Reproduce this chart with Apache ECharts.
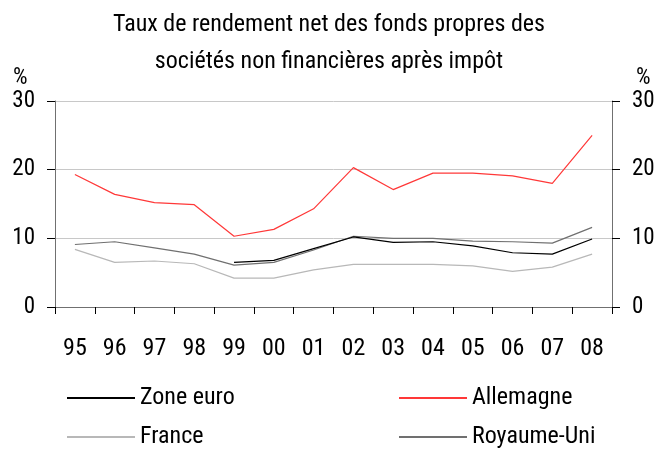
<!DOCTYPE html>
<html lang="fr">
<head>
    <meta charset="UTF-8">
    <title>Taux de rendement</title>
    <style>
        html, body { margin: 0; padding: 0; background: #fff; }
        #container { width: 658px; height: 450px; }
    </style>
</head>
<body>
<div id="container"></div>
<script src="https://cdn.jsdelivr.net/npm/echarts@6/dist/echarts.min.js"></script>
<script type="text/javascript">
    // années
    var years = ['95','96','97','98','99','00','01','02','03','04','05','06','07','08'];
    // séries (%)
    var zoneEuro   = [null, null, null, null, 6.5, 6.8, 8.5, 10.2, 9.4, 9.5, 8.9, 7.9, 7.7, 9.9];
    var allemagne  = [19.3, 16.4, 15.2, 14.9, 10.3, 11.3, 14.3, 20.3, 17.1, 19.5, 19.5, 19.1, 18.0, 25.0];
    var france     = [8.4, 6.5, 6.7, 6.3, 4.2, 4.2, 5.4, 6.2, 6.2, 6.2, 6.0, 5.2, 5.8, 7.7];
    var royaumeUni = [9.1, 9.5, 8.6, 7.7, 6.1, 6.5, 8.3, 10.3, 10.0, 10.0, 9.6, 9.5, 9.3, 11.6];
    var yTicks = [0, 10, 20, 30];

    var font = '"Roboto Condensed", "DejaVu Sans Condensed", sans-serif';
    var axisCol = '#707070';

    function yAxis(pos) {
        return {
            type: 'value',
            position: pos,
            min: yTicks[0],
            max: yTicks[yTicks.length - 1],
            interval: 10,
            axisLine: { show: true, lineStyle: { color: axisCol, width: 1 } },
            axisTick: { show: true, length: 8, lineStyle: { color: '#000' } },
            axisLabel: { margin: 20, color: '#000', fontSize: 23, fontWeight: 'normal', fontFamily: font },
            splitLine: { show: pos === 'left', lineStyle: { color: '#c8c8c8', width: 1 } }
        };
    }

    function legendAt(name, left, top) {
        return {
            data: [name],
            left: left,
            top: top,
            padding: 0,
            icon: 'rect',
            itemWidth: 68,
            itemHeight: 2,
            itemGap: 0,
            textStyle: { color: '#000', fontSize: 24, fontWeight: 'normal', fontFamily: font },
            selectedMode: false
        };
    }

    function line(name, data, color, z) {
        return {
            name: name,
            type: 'line',
            data: data,
            symbol: 'none',
            z: z,
            lineStyle: { color: color, width: 1.2 },
            itemStyle: { color: color },
            animation: false
        };
    }

    var chart = echarts.init(document.getElementById('container'), null, { renderer: 'canvas' });
    chart.setOption({
        backgroundColor: '#fff',
        animation: false,
        title: {
            text: 'Taux de rendement net des fonds propres des\nsociétés non financières après impôt',
            left: 'center',
            top: 1,
            textStyle: { color: '#000', fontSize: 24, fontWeight: 'normal', fontFamily: font, lineHeight: 37 }
        },
        graphic: [
            { type: 'text', left: 13, top: 67, style: { text: '%', fill: '#000', font: '23px ' + font } },
            { type: 'text', left: 636, top: 67, style: { text: '%', fill: '#000', font: '23px ' + font } }
        ],
        legend: [
            legendAt('Zone euro', 67, 386),
            legendAt('Allemagne', 399, 386),
            legendAt('France', 67, 425),
            legendAt('Royaume-Uni', 399, 425)
        ],
        grid: { left: 55, right: 46, top: 101, bottom: 143, containLabel: false },
        xAxis: {
            type: 'category',
            data: years,
            boundaryGap: true,
            axisLine: { lineStyle: { color: axisCol, width: 1 } },
            axisTick: { show: true, length: 7, alignWithLabel: false, lineStyle: { color: '#000' } },
            axisLabel: { margin: 30, color: '#000', fontSize: 24, fontWeight: 'normal', fontFamily: font, interval: 0 }
        },
        yAxis: [yAxis('left'), yAxis('right')],
        series: [
            line('Zone euro', zoneEuro, '#000000', 5),
            line('Allemagne', allemagne, '#ff3838', 4),
            line('France', france, '#b8b8b8', 2),
            line('Royaume-Uni', royaumeUni, '#707070', 3)
        ]
    });
</script>
</body>
</html>
